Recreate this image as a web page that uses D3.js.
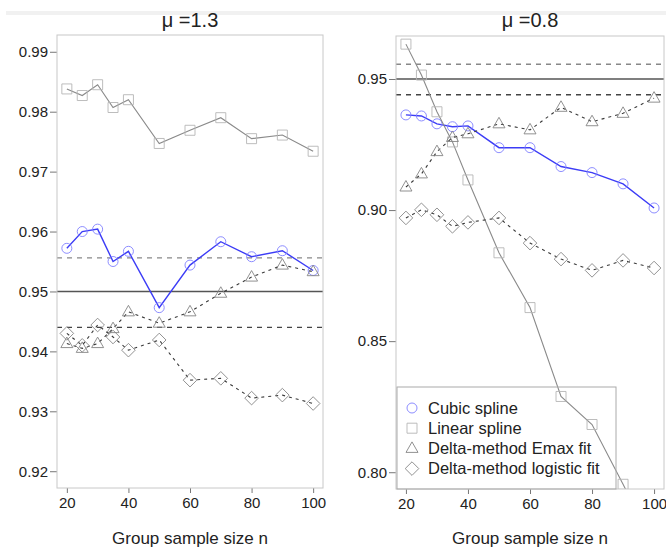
<!DOCTYPE html>
<html>
<head>
<meta charset="utf-8">
<title>Coverage by group sample size</title>
<script src="https://d3js.org/d3.v7.min.js"></script>
<style>
  body { margin: 0; background: #fff; }
  text { font-family: "Liberation Sans", Arial, sans-serif; fill: #222; }
</style>
</head>
<body>
<div id="chart"></div>
<script>
// group sample sizes (x)
const sampleSizes = [20, 25, 30, 35, 40, 50, 60, 70, 80, 90, 100];

// mu = 1.3 panel
const cubic13    = [0.9572, 0.9600, 0.9604, 0.9550, 0.9567, 0.9473, 0.9544, 0.9583, 0.9558, 0.9568, 0.9535];
const linear13   = [0.9838, 0.9827, 0.9845, 0.9807, 0.9820, 0.9747, 0.9769, 0.9790, 0.9755, 0.9761, 0.9734];
const emax13     = [0.9413, 0.9405, 0.9413, 0.9438, 0.9466, 0.9447, 0.9466, 0.9497, 0.9524, 0.9544, 0.9533];
const logistic13 = [0.9430, 0.9410, 0.9444, 0.9424, 0.9402, 0.9419, 0.9352, 0.9355, 0.9322, 0.9327, 0.9313];

// mu = 0.8 panel
const cubic08    = [0.9363, 0.9359, 0.9329, 0.9318, 0.9321, 0.9238, 0.9238, 0.9166, 0.9143, 0.9100, 0.9008];
const linear08   = [0.9633, 0.9515, 0.9375, 0.9260, 0.9115, 0.8837, 0.8628, 0.8289, 0.8182, 0.7954, 0.7720];
const emax08     = [0.9088, 0.9138, 0.9223, 0.9277, 0.9291, 0.9329, 0.9306, 0.9392, 0.9337, 0.9369, 0.9427];
const logistic08 = [0.8970, 0.9001, 0.8982, 0.8938, 0.8953, 0.8970, 0.8874, 0.8813, 0.8770, 0.8808, 0.8779];

// nominal level and its simulation band
const nominal = 0.95;
const bandLower = 0.9440;
const bandUpper = 0.9556;

const panelTitles = ["\u03bc =1.3", "\u03bc =0.8"];
const yLimits13 = [0.92, 0.99];
const yLimits08 = [0.80, 0.96];
const yTicks13 = [0.92, 0.93, 0.94, 0.95, 0.96, 0.97, 0.98, 0.99];
const yTicks08 = [0.80, 0.85, 0.90, 0.95];
const xTicks = [20, 40, 60, 80, 100];
const xLabel = "Group sample size n";
const legendLabels = ["Cubic spline", "Linear spline", "Delta-method Emax fit", "Delta-method logistic fit"];

const width = 666, height = 550;

const svg = d3.select("#chart").append("svg")
  .attr("width", width)
  .attr("height", height);

// faint strip at the top of the original image
svg.append("rect").attr("x", 6).attr("y", 11).attr("width", width - 6).attr("height", 4).attr("fill", "#f1f1f1");

// R style axis extension (4% each side)
function pad(lim) {
  const d = (lim[1] - lim[0]) * 0.04;
  return [lim[0] - d, lim[1] + d];
}

// marker shapes, like R pch 1, 0, 2, 5
const shapes = {
  circle: "M5,0A5,5 0 1,1 -5,0A5,5 0 1,1 5,0Z",
  square: "M-5,-5h10v10h-10Z",
  triangle: "M0,-6.5L6,4L-6,4Z",
  diamond: "M0,-6.8L6.8,0L0,6.8L-6.8,0Z"
};

const seriesStyle = [
  { shape: "circle",   line: "#3c3cf6", lineWidth: 1.4, dash: null,  mark: "#8080ff" },
  { shape: "square",   line: "#8a8a8a", lineWidth: 1.1, dash: null,  mark: "#b5b5b5" },
  { shape: "triangle", line: "#3a3a3a", lineWidth: 1.1, dash: "3,4", mark: "#858585" },
  { shape: "diamond",  line: "#3a3a3a", lineWidth: 1.1, dash: "3,4", mark: "#858585" }
];

const panels = [
  { id: 0, left: 57,  right: 323, top: 35, bottom: 488, yLim: yLimits13, yTicks: yTicks13,
    series: [cubic13, linear13, emax13, logistic13], legend: false },
  { id: 1, left: 396, right: 664, top: 36, bottom: 489, yLim: yLimits08, yTicks: yTicks08,
    series: [cubic08, linear08, emax08, logistic08], legend: true }
];

panels.forEach(p => {
  const x = d3.scaleLinear().domain(pad([20, 100])).range([p.left, p.right]);
  const y = d3.scaleLinear().domain(pad(p.yLim)).range([p.bottom, p.top]);
  const g = svg.append("g");

  g.append("clipPath").attr("id", "clip" + p.id)
    .append("rect")
    .attr("x", p.left).attr("y", p.top)
    .attr("width", p.right - p.left).attr("height", p.bottom - p.top);

  // title
  g.append("text")
    .attr("x", (p.left + p.right) / 2).attr("y", 27)
    .attr("text-anchor", "middle")
    .style("font-size", "20px")
    .text(panelTitles[p.id]);

  // axes
  const yAxis = d3.axisLeft(y).tickValues(p.yTicks).tickFormat(d3.format(".2f")).tickSize(7).tickPadding(2);
  const xAxis = d3.axisBottom(x).tickValues(xTicks).tickSize(5).tickPadding(4);

  const ya = g.append("g").attr("transform", `translate(${p.left},0)`).call(yAxis);
  const xa = g.append("g").attr("transform", `translate(0,${p.bottom})`).call(xAxis);
  [ya, xa].forEach(a => {
    a.select(".domain").remove();
    a.selectAll("line").attr("stroke", "#777");
    a.selectAll("text").style("font-size", "15px").attr("fill", "#222");
  });

  // x label
  g.append("text")
    .attr("x", (p.left + p.right) / 2).attr("y", 544)
    .attr("text-anchor", "middle")
    .style("font-size", "17px")
    .text(xLabel);

  const plot = g.append("g").attr("clip-path", `url(#clip${p.id})`);

  // reference lines
  plot.append("line")
    .attr("x1", p.left).attr("x2", p.right)
    .attr("y1", y(nominal)).attr("y2", y(nominal))
    .attr("stroke", "#555").attr("stroke-width", 1.4);
  plot.append("line")
    .attr("x1", p.left).attr("x2", p.right)
    .attr("y1", y(bandUpper)).attr("y2", y(bandUpper))
    .attr("stroke", "#888").attr("stroke-width", 1.4).attr("stroke-dasharray", "5,5");
  plot.append("line")
    .attr("x1", p.left).attr("x2", p.right)
    .attr("y1", y(bandLower)).attr("y2", y(bandLower))
    .attr("stroke", "#444").attr("stroke-width", 1.4).attr("stroke-dasharray", "5,5");

  // series
  const line = d3.line().x((d, i) => x(sampleSizes[i])).y(d => y(d));
  p.series.forEach((vals, k) => {
    const st = seriesStyle[k];
    plot.append("path")
      .datum(vals)
      .attr("d", line)
      .attr("fill", "none")
      .attr("stroke", st.line)
      .attr("stroke-width", st.lineWidth)
      .attr("stroke-dasharray", st.dash);
    plot.selectAll(null)
      .data(vals)
      .enter().append("path")
      .attr("transform", (d, i) => `translate(${x(sampleSizes[i])},${y(d)})`)
      .attr("d", shapes[st.shape])
      .attr("fill", "none")
      .attr("stroke", st.mark)
      .attr("stroke-width", 0.9);
  });

  // plot box
  g.append("rect")
    .attr("x", p.left).attr("y", p.top)
    .attr("width", p.right - p.left).attr("height", p.bottom - p.top)
    .attr("fill", "none").attr("stroke", "#c8c8c8").attr("stroke-width", 1);

  if (p.legend) {
    const lg = g.append("g");
    lg.append("rect")
      .attr("x", p.left + 1).attr("y", 387)
      .attr("width", 219).attr("height", p.bottom - 387)
      .attr("fill", "none").attr("stroke", "#aaa").attr("stroke-width", 1);
    legendLabels.forEach((lab, k) => {
      const st = seriesStyle[k];
      const yy = 408 + k * 20.2;
      lg.append("path")
        .attr("transform", `translate(412,${yy})`)
        .attr("d", shapes[st.shape])
        .attr("fill", "none")
        .attr("stroke", st.mark)
        .attr("stroke-width", 0.9);
      lg.append("text")
        .attr("x", 428).attr("y", yy).attr("dy", "0.35em")
        .style("font-size", "16.5px")
        .text(lab);
    });
  }
});
</script>
</body>
</html>
